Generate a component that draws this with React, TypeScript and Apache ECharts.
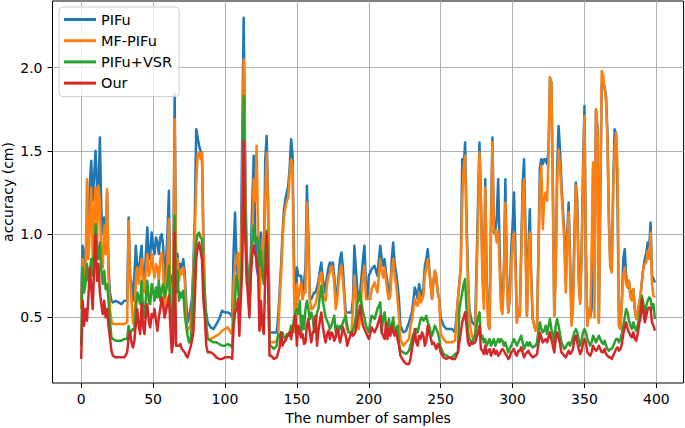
import React, { useEffect, useRef } from "react";
import * as echarts from "echarts";

const samples: number[] = [
  // 0-57
  0, 1, 2, 3, 4, 5, 6, 7, 8, 9, 10, 11, 12, 13, 14, 15, 16, 17, 18, 19, 20, 21, 22,
  24, 26, 28, 30, 32,
  33, 34, 35, 36, 37, 38, 39, 40, 41, 42, 43, 44, 45, 46, 47, 48, 49, 50, 51, 52, 53, 54, 55, 56, 57,
  // 58-131
  58, 60, 61, 62, 63, 64, 65, 66, 67, 68, 69, 70, 71, 72, 73, 74, 75, 76, 77, 78, 79, 80, 81, 82, 83, 84, 85, 86, 87, 88,
  90, 92, 94, 96, 98, 100, 102, 104,
  105, 106, 107, 108, 109, 110, 111, 112, 113, 114, 115, 116, 117, 118, 119, 120, 121, 122, 123, 124, 125, 126, 127, 128, 129, 130, 131,
  // 132-204
  132, 134, 136,
  137, 138, 139, 140, 141, 142, 143, 144, 145, 146, 147, 148, 149, 150, 151, 152, 153, 154, 155, 156,
  157, 158, 159, 160, 161, 162, 163, 164, 165, 166, 167, 168, 169, 170, 171, 172, 173, 174, 175, 176,
  177, 178, 179, 180, 181, 182, 183, 184, 185, 186,
  188,
  189, 190, 191, 192, 193, 194, 195, 196, 197, 198, 199, 200, 201, 202,
  204,
  // 206-277
  206, 208,
  209, 210, 211, 212, 213, 214, 215, 216, 217, 218, 219, 220, 221,
  222, 224, 226, 228,
  229, 230, 231, 232, 233, 234, 235, 236, 237, 238, 239, 240, 241, 242, 243, 244, 245, 246, 247, 248, 249,
  250, 252, 254, 256, 258, 260,
  262, 263, 264, 265, 266, 267, 268, 269, 270, 271, 272,
  274, 276, 277,
  // 278-350
  278, 279, 280, 281, 282, 283, 284, 285, 286, 287, 288, 289, 290, 291, 292, 293, 294, 295, 296, 297,
  298, 299, 300, 301, 302, 303, 304, 305, 306, 307, 308, 309, 310, 311, 312, 313, 314,
  316, 317, 318, 319, 320, 321, 322, 323, 324, 325, 326, 327, 328, 329, 330, 331, 332, 333, 334, 335,
  336, 337, 338, 339, 340, 341, 342, 343, 344, 345, 346, 347, 348, 349, 350,
  // 351-399
  351, 352, 353, 354, 355, 356, 357, 358, 359, 360, 361, 362, 363, 364, 365, 366, 367, 368, 369, 370,
  371, 372, 373, 374, 375, 376, 377, 378, 379, 380, 381, 382, 383, 384, 385, 386, 387, 388, 389, 390,
  391, 392, 393, 394, 395, 396, 397, 398, 399,
];

const pifu: number[] = [
  0.60, 0.93, 0.88, 0.80, 1.05, 0.95, 1.30, 1.44, 1.20, 1.35, 1.50, 1.28, 1.25, 1.58, 1.15, 1.00, 1.10, 0.90, 1.25, 0.80, 0.65, 0.60, 0.59,
  0.60, 0.59, 0.58, 0.60, 0.60,
  1.10, 0.75, 0.70, 0.60, 0.75, 0.93, 0.80, 0.78, 0.85, 0.93, 0.75, 0.72, 0.88, 1.04, 0.85, 0.88, 1.01, 0.92, 0.88, 0.98, 0.95, 0.88, 0.98, 1.00, 0.93,
  0.68, 1.00, 1.26, 0.55, 0.75, 0.70, 1.84, 0.80, 0.88, 0.76, 0.82, 0.80, 0.85, 0.77, 0.60, 0.47, 0.50, 0.55, 0.61, 0.80, 1.10, 1.63, 1.58, 1.53, 1.50, 1.49, 1.00, 0.61, 0.52, 0.47,
  0.44, 0.43, 0.46, 0.49, 0.54, 0.53, 0.53, 0.52,
  0.50, 0.90, 1.13, 0.85, 0.73, 0.61, 0.85, 1.60, 2.30, 1.50, 0.85, 0.75, 0.61, 0.90, 1.20, 1.47, 1.00, 0.80, 0.75, 0.95, 1.01, 0.85, 0.80, 1.45, 1.59, 1.17, 0.41,
  0.41, 0.41, 0.41,
  0.51, 0.65, 0.81, 1.00, 1.15, 1.21, 1.25, 1.29, 1.40, 1.57, 1.47, 0.85, 0.41, 0.80, 0.75, 0.75, 0.75, 0.61, 0.71, 0.80,
  1.29, 1.00, 0.61, 0.61, 0.63, 0.65, 0.65, 0.68, 0.72, 0.78, 0.83, 0.73, 0.65, 0.70, 0.75, 0.80, 0.83, 0.81, 0.83, 0.75,
  0.61, 0.65, 0.75, 0.85, 0.89, 0.80, 0.65, 0.53, 0.53, 0.53,
  0.53,
  0.61, 0.93, 0.80, 0.67, 0.60, 0.65, 0.75, 0.85, 0.93, 0.70, 0.61, 0.75, 0.77, 0.79,
  0.81,
  0.75, 0.93,
  0.85, 0.81, 0.85, 0.77, 0.71, 0.61, 0.68, 0.85, 0.95, 0.82, 0.77, 0.70, 0.61,
  0.45, 0.41, 0.42, 0.47,
  0.50, 0.53, 0.60, 0.68, 0.65, 0.61, 0.70, 0.65, 0.63, 0.68, 0.81, 0.85, 0.91, 0.80, 0.70, 0.61, 0.72, 0.78, 0.72, 0.65, 0.61,
  0.50, 0.45, 0.43, 0.43, 0.43, 0.41,
  0.61, 0.71, 0.80, 1.45, 1.40, 1.55, 1.10, 0.75, 0.55, 0.50, 0.47,
  0.45, 1.20, 1.55,
  1.20, 0.81, 0.60, 1.33, 0.75, 0.50, 0.43, 1.10, 1.58, 1.01, 1.02, 1.10, 1.33, 0.90, 0.60, 0.57, 0.80, 1.33, 0.80, 0.53,
  0.61, 0.90, 1.05, 1.25, 0.90, 0.47, 0.55, 0.51, 0.90, 1.30, 1.45, 1.00, 0.51, 0.90, 1.15, 0.75, 0.49,
  0.42, 0.45, 0.90, 1.40, 1.45, 1.42, 1.45, 1.45, 1.42, 1.50, 1.94, 1.91, 1.30, 0.51, 0.80, 1.40, 1.65, 1.51, 1.31, 1.15,
  1.01, 0.70, 1.00, 1.19, 0.85, 0.47, 0.60, 1.00, 1.31, 1.20, 0.75, 0.60, 0.90, 1.40, 1.77,
  0.90, 0.45, 0.55, 0.50, 0.55, 1.40, 0.90, 1.75, 1.65, 0.47, 1.20, 1.90, 1.91, 1.88, 1.83, 1.60, 1.10, 0.80, 0.79, 1.30,
  1.63, 1.60, 1.20, 0.45, 0.43, 0.60, 0.85, 0.91, 0.75, 0.68, 0.72, 0.62, 0.65, 0.67, 0.55, 0.49, 0.53, 0.58, 0.63, 0.72,
  0.80, 0.85, 0.89, 0.95, 0.92, 1.07, 0.75, 0.73, 0.71,
];

const mfPifu: number[] = [
  0.55, 0.85, 0.72, 0.75, 1.33, 0.85, 1.05, 1.28, 0.85, 1.15, 1.28, 0.95, 1.29, 1.20, 0.85, 0.80, 1.05, 0.88, 1.27, 0.75, 0.55, 0.48, 0.46,
  0.46, 0.46, 0.46, 0.46, 0.47,
  1.08, 0.75, 0.60, 0.47, 0.45, 0.72, 0.80, 0.70, 0.78, 0.85, 0.70, 0.65, 0.78, 0.88, 0.75, 0.78, 0.88, 0.80, 0.74, 0.82, 0.80, 0.72, 0.85, 0.89, 0.80,
  0.50, 0.85, 1.09, 0.50, 0.70, 0.55, 1.69, 0.75, 0.85, 0.72, 0.78, 0.76, 0.80, 0.72, 0.49, 0.42, 0.43, 0.45, 0.55, 0.75, 1.00, 1.30, 1.48, 1.49, 1.45, 1.49, 0.90, 0.61, 0.45, 0.37,
  0.37, 0.38, 0.39, 0.40, 0.42, 0.43, 0.44, 0.41,
  0.40, 0.70, 0.81, 0.85, 0.89, 0.61, 0.75, 1.25, 2.05, 1.40, 0.70, 0.70, 0.58, 0.80, 1.00, 1.33, 1.20, 1.53, 1.00, 0.61, 0.80, 0.97, 0.80, 1.20, 1.49, 1.15, 0.35,
  0.35, 0.35, 0.36,
  0.39, 0.60, 0.75, 0.95, 1.10, 1.16, 1.20, 1.22, 1.35, 1.45, 1.40, 0.65, 0.41, 0.70, 0.61, 0.67, 0.71, 0.61, 0.65, 0.65,
  1.19, 0.90, 0.61, 0.55, 0.55, 0.57, 0.58, 0.62, 0.68, 0.75, 0.77, 0.65, 0.61, 0.60, 0.70, 0.75, 0.77, 0.81, 0.79, 0.70,
  0.55, 0.60, 0.70, 0.78, 0.81, 0.72, 0.61, 0.47, 0.43, 0.41,
  0.41,
  0.55, 0.75, 0.65, 0.45, 0.43, 0.50, 0.65, 0.75, 0.81, 0.61, 0.61, 0.61, 0.61, 0.67,
  0.71,
  0.65, 0.85,
  0.78, 0.74, 0.80, 0.72, 0.65, 0.61, 0.63, 0.78, 0.85, 0.75, 0.70, 0.61, 0.50,
  0.37, 0.33, 0.35, 0.37,
  0.45, 0.48, 0.55, 0.61, 0.58, 0.57, 0.65, 0.59, 0.60, 0.63, 0.75, 0.80, 0.85, 0.78, 0.70, 0.61, 0.72, 0.78, 0.75, 0.65, 0.61,
  0.40, 0.37, 0.35, 0.35, 0.35, 0.36,
  0.61, 0.70, 0.80, 1.20, 1.40, 1.47, 1.00, 0.70, 0.50, 0.42, 0.38,
  0.37, 1.10, 1.49,
  1.20, 0.75, 0.55, 1.28, 0.70, 0.45, 0.43, 1.00, 1.55, 1.03, 1.01, 0.95, 1.02, 0.80, 0.55, 0.52, 0.75, 1.19, 0.75, 0.53,
  0.61, 0.80, 0.95, 1.01, 0.80, 0.47, 0.55, 0.51, 0.85, 1.20, 1.33, 0.90, 0.51, 0.85, 1.01, 0.70, 0.49,
  0.42, 0.45, 0.85, 1.30, 1.41, 1.03, 1.20, 1.25, 1.20, 1.45, 1.94, 1.91, 1.25, 0.51, 0.75, 1.30, 1.51, 1.40, 1.25, 1.10,
  0.95, 0.65, 0.95, 1.13, 0.80, 0.45, 0.55, 0.90, 1.29, 1.10, 0.70, 0.58, 0.85, 1.30, 1.71,
  0.90, 0.45, 0.55, 0.50, 0.90, 1.43, 0.50, 1.75, 1.60, 0.47, 1.20, 1.98, 1.95, 1.88, 1.80, 1.55, 1.05, 0.80, 0.77, 1.25,
  1.50, 1.61, 1.40, 0.45, 0.43, 0.60, 0.75, 0.80, 0.70, 0.68, 0.72, 0.62, 0.60, 0.67, 0.55, 0.49, 0.53, 0.58, 0.63, 0.72,
  0.80, 0.82, 0.83, 0.90, 0.85, 1.01, 0.70, 0.63, 0.62,
];

const pifuVsr: number[] = [
  0.33, 0.80, 0.65, 0.70, 0.82, 0.72, 0.78, 0.85, 0.75, 0.90, 1.06, 0.92, 0.85, 0.95, 0.78, 0.70, 0.78, 0.67, 0.70, 0.60, 0.48, 0.38, 0.37,
  0.36, 0.36, 0.36, 0.37, 0.37,
  0.45, 0.40, 0.42, 0.43, 0.42, 0.55, 0.65, 0.62, 0.58, 0.72, 0.55, 0.50, 0.62, 0.72, 0.60, 0.58, 0.70, 0.66, 0.60, 0.68, 0.62, 0.72, 0.60, 0.67, 0.70,
  0.62, 0.70, 0.81, 0.50, 0.42, 0.62, 1.11, 0.65, 0.78, 0.60, 0.65, 0.62, 0.66, 0.52, 0.45, 0.39, 0.35, 0.36, 0.45, 0.69, 0.85, 0.95, 1.00, 1.01, 0.98, 0.97, 0.72, 0.65, 0.45, 0.37,
  0.36, 0.35, 0.35, 0.34, 0.33, 0.33, 0.34, 0.33,
  0.32, 0.50, 0.61, 0.75, 0.70, 0.58, 0.65, 0.95, 1.83, 1.20, 0.89, 0.75, 0.55, 0.80, 0.95, 1.05, 0.95, 0.98, 0.95, 0.81, 0.90, 0.75, 0.70, 0.90, 1.02, 0.80, 0.33,
  0.33, 0.31, 0.33,
  0.40, 0.38, 0.40, 0.41, 0.38, 0.37, 0.40, 0.39, 0.41, 0.45, 0.41, 0.50, 0.53, 0.55, 0.52, 0.60, 0.41, 0.51, 0.43, 0.55,
  0.60, 0.55, 0.49, 0.53, 0.50, 0.41, 0.45, 0.53, 0.55, 0.63, 0.69, 0.60, 0.55, 0.50, 0.48, 0.46, 0.43, 0.45, 0.48, 0.51,
  0.41, 0.45, 0.41, 0.45, 0.43, 0.47, 0.49, 0.51, 0.45, 0.41,
  0.41,
  0.42, 0.45, 0.50, 0.58, 0.62, 0.65, 0.58, 0.53, 0.50, 0.45, 0.43, 0.41, 0.47, 0.51,
  0.49,
  0.55, 0.59,
  0.41, 0.50, 0.53, 0.45, 0.43, 0.49, 0.41, 0.45, 0.50, 0.41, 0.43, 0.45, 0.35,
  0.30, 0.29, 0.28, 0.30,
  0.33, 0.37, 0.40, 0.39, 0.43, 0.41, 0.45, 0.49, 0.50, 0.48, 0.49, 0.51, 0.47, 0.45, 0.41, 0.39, 0.42, 0.45, 0.43, 0.41, 0.37,
  0.32, 0.28, 0.27, 0.26, 0.26, 0.28,
  0.29, 0.55, 0.60, 0.65, 0.70, 0.73, 0.55, 0.41, 0.37, 0.36, 0.35,
  0.40, 0.50, 0.53,
  0.37, 0.39, 0.35, 0.37, 0.33, 0.35, 0.37, 0.33, 0.35, 0.37, 0.33, 0.35, 0.37, 0.35, 0.37, 0.36, 0.33, 0.35, 0.32, 0.29,
  0.31, 0.33, 0.35, 0.37, 0.35, 0.33, 0.35, 0.37, 0.39, 0.35, 0.31, 0.33, 0.35, 0.33, 0.35, 0.33, 0.32,
  0.33, 0.35, 0.42, 0.47, 0.43, 0.41, 0.42, 0.45, 0.40, 0.45, 0.49, 0.43, 0.40, 0.35, 0.45, 0.49, 0.45, 0.40, 0.35, 0.33,
  0.31, 0.32, 0.34, 0.35, 0.33, 0.35, 0.38, 0.41, 0.43, 0.41, 0.37, 0.33, 0.36, 0.41, 0.43,
  0.41, 0.37, 0.35, 0.33, 0.35, 0.39, 0.37, 0.35, 0.37, 0.39, 0.37, 0.35, 0.34, 0.36, 0.33, 0.31, 0.30, 0.31, 0.31, 0.33,
  0.35, 0.37, 0.37, 0.35, 0.37, 0.40, 0.45, 0.50, 0.55, 0.53, 0.48, 0.45, 0.43, 0.47, 0.44, 0.42, 0.45, 0.50, 0.55, 0.63,
  0.58, 0.52, 0.57, 0.60, 0.62, 0.61, 0.55, 0.58, 0.49,
];

const ours: number[] = [
  0.25, 0.60, 0.45, 0.55, 0.48, 0.62, 0.80, 0.68, 0.55, 0.80, 1.00, 0.72, 0.82, 0.65, 0.58, 0.52, 0.60, 0.50, 0.55, 0.45, 0.38, 0.30, 0.27,
  0.26, 0.26, 0.26, 0.26, 0.29,
  0.38, 0.41, 0.35, 0.32, 0.36, 0.46, 0.55, 0.45, 0.40, 0.58, 0.45, 0.40, 0.52, 0.58, 0.48, 0.44, 0.52, 0.50, 0.55, 0.48, 0.42, 0.50, 0.55, 0.62, 0.57,
  0.50, 0.58, 0.63, 0.45, 0.29, 0.35, 1.01, 0.33, 0.33, 0.33, 0.34, 0.31, 0.30, 0.29, 0.27, 0.26, 0.29, 0.32, 0.36, 0.41, 0.60, 0.85, 0.92, 0.95, 0.90, 0.85, 0.60, 0.50, 0.33, 0.29,
  0.29, 0.28, 0.26, 0.25, 0.25, 0.26, 0.26, 0.26,
  0.25, 0.45, 0.53, 0.55, 0.61, 0.39, 0.60, 0.80, 1.56, 1.00, 0.77, 0.62, 0.50, 0.75, 0.88, 0.93, 0.88, 0.85, 0.78, 0.42, 0.60, 0.45, 0.40, 0.75, 1.00, 0.70, 0.27,
  0.27, 0.25, 0.26,
  0.29, 0.32, 0.41, 0.33, 0.35, 0.36, 0.38, 0.40, 0.41, 0.37, 0.44, 0.45, 0.51, 0.33, 0.45, 0.41, 0.38, 0.40, 0.34, 0.35,
  0.45, 0.49, 0.41, 0.35, 0.41, 0.42, 0.51, 0.33, 0.42, 0.48, 0.53, 0.45, 0.39, 0.35, 0.40, 0.42, 0.37, 0.41, 0.40, 0.36,
  0.38, 0.43, 0.40, 0.35, 0.39, 0.44, 0.41, 0.39, 0.33, 0.36,
  0.41,
  0.39, 0.40, 0.42, 0.48, 0.52, 0.57, 0.50, 0.45, 0.43, 0.41, 0.39, 0.37, 0.40, 0.44,
  0.41,
  0.45, 0.51,
  0.41, 0.39, 0.37, 0.47, 0.37, 0.43, 0.39, 0.45, 0.41, 0.39, 0.42, 0.37, 0.33,
  0.27, 0.24, 0.22, 0.22,
  0.25, 0.31, 0.36, 0.43, 0.35, 0.33, 0.39, 0.37, 0.41, 0.39, 0.33, 0.36, 0.45, 0.40, 0.38, 0.34, 0.35, 0.33, 0.31, 0.34, 0.33,
  0.29, 0.26, 0.25, 0.26, 0.25, 0.25,
  0.29, 0.35, 0.41, 0.47, 0.50, 0.53, 0.45, 0.35, 0.33, 0.35, 0.34,
  0.35, 0.41, 0.45,
  0.31, 0.30, 0.28, 0.33, 0.28, 0.30, 0.31, 0.27, 0.29, 0.31, 0.28, 0.30, 0.27, 0.28, 0.30, 0.31, 0.30, 0.28, 0.27, 0.25,
  0.26, 0.29, 0.30, 0.31, 0.28, 0.27, 0.30, 0.30, 0.32, 0.29, 0.26, 0.28, 0.29, 0.30, 0.28, 0.27, 0.26,
  0.27, 0.28, 0.34, 0.41, 0.38, 0.35, 0.36, 0.37, 0.35, 0.38, 0.41, 0.37, 0.33, 0.29, 0.37, 0.41, 0.38, 0.34, 0.29, 0.28,
  0.27, 0.26, 0.28, 0.30, 0.28, 0.29, 0.31, 0.37, 0.39, 0.35, 0.31, 0.28, 0.30, 0.34, 0.37,
  0.35, 0.29, 0.28, 0.27, 0.29, 0.33, 0.31, 0.30, 0.31, 0.33, 0.31, 0.29, 0.29, 0.31, 0.28, 0.27, 0.26, 0.26, 0.25, 0.27,
  0.29, 0.31, 0.32, 0.30, 0.31, 0.34, 0.40, 0.44, 0.47, 0.43, 0.41, 0.39, 0.38, 0.41, 0.37, 0.36, 0.40, 0.46, 0.50, 0.61,
  0.53, 0.47, 0.51, 0.55, 0.56, 0.55, 0.47, 0.45, 0.42,
];

const seriesNames = ["PIFu", "MF-PIFu", "PIFu+VSR", "Our"];
const seriesColors = ["#1f77b4", "#ff7f0e", "#2ca02c", "#d62728"];
const xTicks = [0, 50, 100, 150, 200, 250, 300, 350, 400];
const yTicks = [0.5, 1.0, 1.5, 2.0];

const FONT = "DejaVu Sans";

function pairs(values: number[]): [number, number][] {
  const n = Math.min(samples.length, values.length);
  const out: [number, number][] = [];
  for (let i = 0; i < n; i++) out.push([samples[i], values[i]]);
  return out;
}

export default function App() {
  const ref = useRef<HTMLDivElement>(null);
  useEffect(() => {
    if (!ref.current) return;
    const chart = echarts.init(ref.current, null, { renderer: "svg" });
    const allValues = [pifu, mfPifu, pifuVsr, ours];
    chart.setOption({
      animation: false,
      backgroundColor: "#ffffff",
      textStyle: { fontFamily: FONT },
      grid: {
        left: 52.5,
        right: 1.4,
        top: 1,
        bottom: 45,
        show: true,
        borderColor: "#000000",
        borderWidth: 1,
        backgroundColor: "transparent",
        containLabel: false,
        outerBoundsMode: "none",
      },
      legend: {
        show: true,
        orient: "vertical",
        left: 59,
        top: 7,
        data: seriesNames,
        icon: "rect",
        itemWidth: 32,
        itemHeight: 3,
        itemGap: 6.2,
        padding: [5, 7, 6, 5],
        backgroundColor: "rgba(255,255,255,0.8)",
        borderColor: "#cccccc",
        borderWidth: 1,
        borderRadius: 4,
        textStyle: { fontFamily: FONT, fontSize: 14.5, color: "#000", lineHeight: 14.5 },
      },
      xAxis: {
        type: "value",
        min: -19.95,
        max: 418.95,
        minInterval: 50,
        maxInterval: 50,
        name: "The number of samples",
        nameLocation: "middle",
        nameGap: 28,
        nameTextStyle: { fontFamily: FONT, fontSize: 14, color: "#000" },
        axisLine: { show: false, onZero: false },
        axisTick: {
          show: true,
          length: 5,
          inside: false,
          customValues: xTicks,
          lineStyle: { color: "#000", width: 1 },
        },
        axisLabel: {
          customValues: xTicks,
          margin: 9,
          fontFamily: FONT,
          fontSize: 14,
          color: "#000",
        },
        splitLine: {
          show: true,
          lineStyle: { color: "#b0b0b0", width: 1 },
        },
      },
      yAxis: {
        type: "value",
        min: 0.106,
        max: 2.4,
        minInterval: 0.5,
        maxInterval: 0.5,
        name: "accuracy (cm)",
        nameLocation: "middle",
        nameGap: 38,
        nameRotate: 90,
        nameMoveOverlap: false,
        nameTextStyle: { fontFamily: FONT, fontSize: 14, color: "#000" },
        axisLine: { show: false, onZero: false },
        axisTick: {
          show: true,
          length: 5,
          inside: false,
          customValues: yTicks,
          lineStyle: { color: "#000", width: 1 },
        },
        axisLabel: {
          customValues: yTicks,
          margin: 10,
          fontFamily: FONT,
          fontSize: 14,
          color: "#000",
          formatter: (v: number) => v.toFixed(1),
        },
        splitLine: {
          show: true,
          lineStyle: { color: "#b0b0b0", width: 1 },
        },
      },
      series: seriesNames.map((name, i) => ({
        name,
        type: "line",
        data: pairs(allValues[i]),
        showSymbol: false,
        symbol: "none",
        color: seriesColors[i],
        lineStyle: { color: seriesColors[i], width: 2.5, join: "round" },
        clip: true,
        z: 2 + i,
      })),
    });
    return () => chart.dispose();
  }, []);
  return (
    <div
      ref={ref}
      style={{ position: "fixed", left: 0, top: 0, width: 685, height: 428, background: "#fff" }}
    />
  );
}
